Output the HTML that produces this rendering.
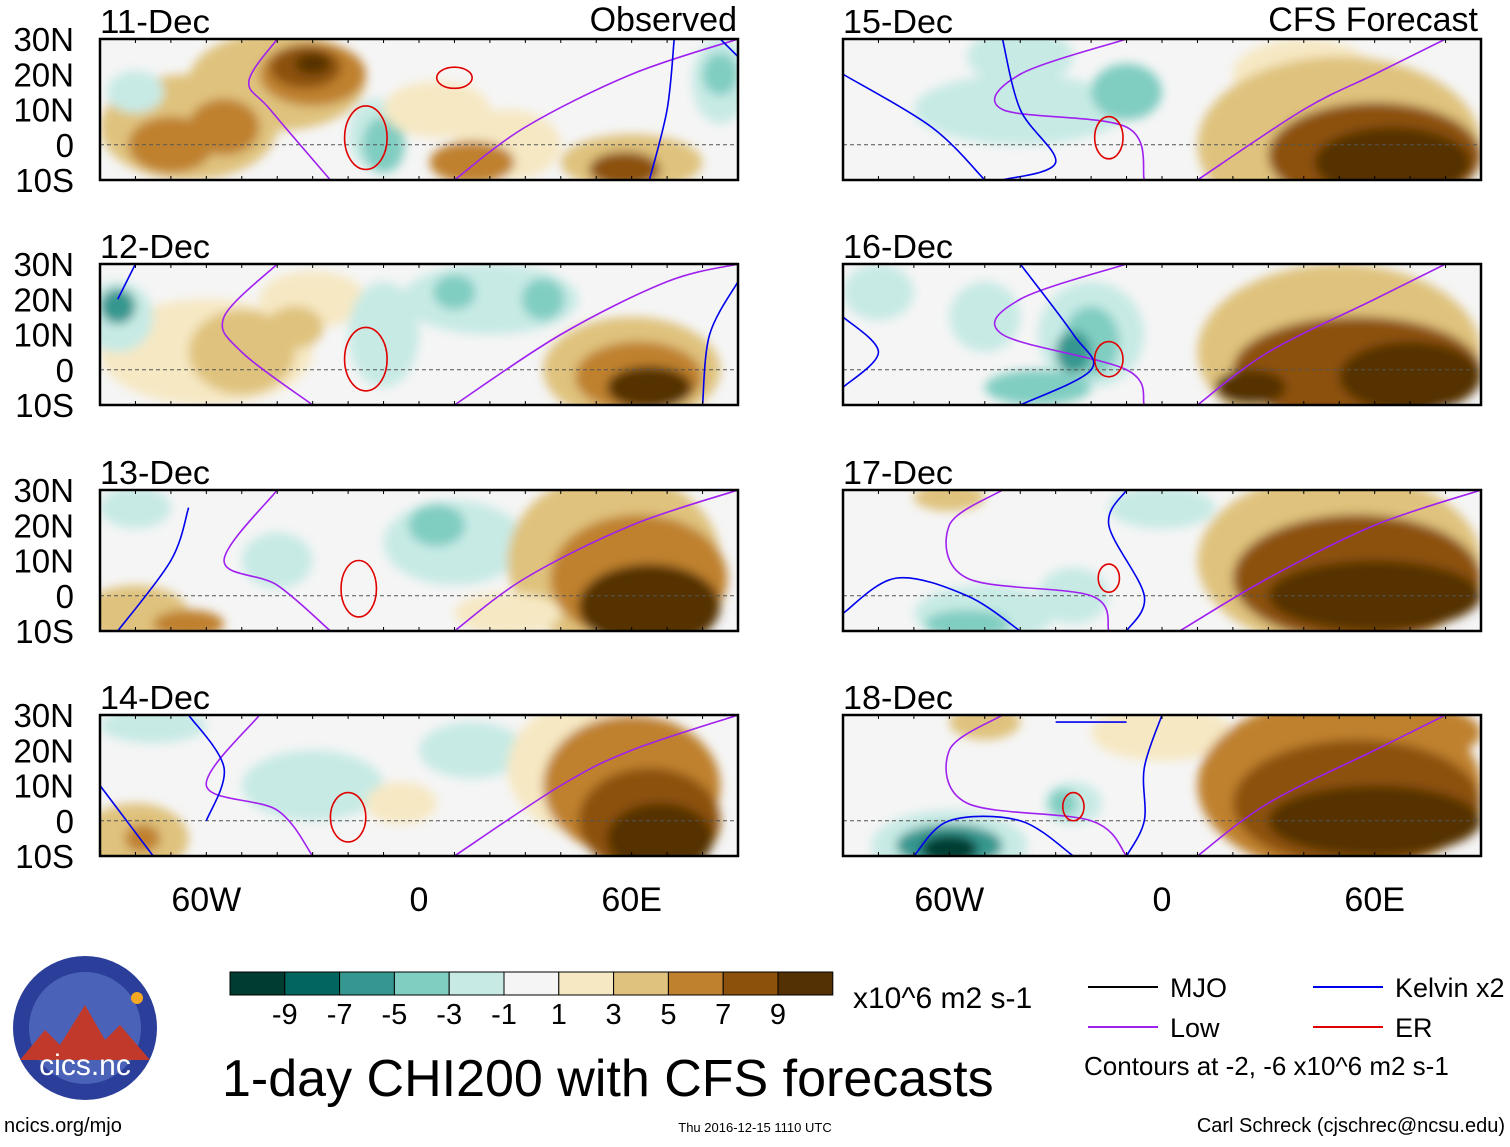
<!DOCTYPE html>
<html><head><meta charset="utf-8"><style>
body{margin:0;background:#fff;font-family:"Liberation Sans",sans-serif}
svg text{font-family:"Liberation Sans",sans-serif}
</style></head><body>
<svg id="c" width="1510" height="1142" viewBox="0 0 1510 1142" xmlns="http://www.w3.org/2000/svg">
<defs><filter id="bl" x="-10%" y="-10%" width="120%" height="120%"><feGaussianBlur stdDeviation="5"/></filter></defs>
</svg>
<script>
const levelColors=["#003c30","#01665e","#35978f","#80cdc1","#c7eae5","#f5f5f5","#f6e8c3","#dfc27d","#bf812d","#8c510a","#543005"];
const levelLabels=["-9","-7","-5","-3","-1","1","3","5","7","9"];
const panelDates=["11-Dec","12-Dec","13-Dec","14-Dec","15-Dec","16-Dec","17-Dec","18-Dec"];
const latLabels=["30N","20N","10N","0","10S"];
const lonTicks=[-60,0,60];
const lonLabels=["60W","0","60E"];
// blobs: [lon, lat, rxDeg, ryDeg, level]
const blobs=[
[[-65,5,25,15,7],[-40,18,25,14,7],[-30,20,15,9,8],[-32,22,10,6,9],[-30,23,5,3,10],[-70,0,12,8,8],[-55,5,10,8,8],[-80,15,8,6,4],[-12,3,8,10,4],[-10,0,6,8,3],[5,10,15,8,6],[25,0,15,10,6],[15,-5,12,6,8],[60,-5,20,8,7],[58,-7,10,5,9],[85,18,8,12,4],[85,20,5,6,3]],
[[-60,5,30,15,6],[-50,5,15,12,7],[-30,20,15,8,6],[-35,12,8,6,7],[-85,15,10,10,4],[-85,18,5,5,2],[20,20,25,10,4],[10,22,6,5,3],[35,20,6,6,3],[-10,10,10,15,4],[60,0,25,15,7],[62,-2,18,10,8],[65,-5,12,6,10]],
[[-80,-5,15,8,7],[-65,-8,10,4,8],[-80,25,10,6,4],[10,15,20,12,4],[5,20,8,6,3],[55,10,30,25,7],[62,5,25,18,8],[65,-3,20,12,10],[-40,10,10,8,4],[25,-5,15,6,6]],
[[-80,-5,15,10,7],[-78,-5,5,4,8],[-75,27,15,5,4],[-30,10,20,10,4],[15,20,15,8,4],[-5,5,10,6,6],[50,15,25,20,6],[60,10,25,20,8],[65,0,20,15,9],[68,-5,15,10,10]],
[[-40,25,15,8,4],[-40,10,30,10,4],[-10,15,10,8,3],[40,20,20,10,6],[50,0,40,25,7],[60,-3,30,15,9],[65,-5,22,10,10]],
[[-80,22,10,8,4],[-50,15,10,10,4],[-20,10,15,15,4],[-20,8,8,10,3],[-25,5,5,6,2],[-35,-5,15,5,3],[50,5,40,25,7],[55,0,35,15,9],[70,-2,20,10,10],[25,-5,10,5,10]],
[[-50,-5,20,8,4],[-55,-8,12,4,3],[-25,0,10,8,4],[-60,28,10,4,7],[0,25,15,6,4],[50,10,40,25,7],[55,5,35,18,9],[60,0,30,10,10]],
[[-60,-7,22,10,4],[-60,-7,15,6,2],[-60,-8,8,4,0],[-25,5,8,6,4],[-28,5,4,4,3],[-50,28,10,5,7],[0,25,20,8,6],[50,10,40,25,8],[70,25,20,8,8],[55,5,35,18,9],[60,0,30,10,10]]
];
const lowLines=[
[[[-40,30],[-48,18],[-42,10],[-25,-10]],[[10,-10],[30,5],[60,20],[90,30]]],
[[[-40,30],[-55,15],[-50,5],[-30,-10]],[[10,-10],[40,10],[70,25],[90,30]]],
[[[-40,30],[-55,10],[-40,3],[-25,-10]],[[10,-10],[30,5],[60,20],[90,30]]],
[[[-45,30],[-60,10],[-40,3],[-30,-10]],[[10,-10],[40,10],[60,20],[90,30]]],
[[[-10,30],[-40,20],[-45,10],[-10,5],[-5,-10]],[[10,-10],[40,10],[60,20],[80,30]]],
[[[-10,30],[-40,20],[-45,10],[-10,0],[-5,-10]],[[10,-10],[30,5],[60,20],[80,30]]],
[[[-45,30],[-60,20],[-55,5],[-20,0],[-15,-10]],[[5,-10],[30,5],[60,20],[90,30]]],
[[[-45,30],[-60,20],[-55,5],[-20,0],[-10,-10]],[[10,-10],[30,5],[60,20],[80,30]]]
];
const kelvinLines=[
[[[65,-10],[70,10],[72,30]],[[85,30],[90,25]]],
[[[-80,30],[-85,20]],[[80,-10],[82,10],[90,25]]],
[[[-85,-10],[-70,10],[-65,25]]],
[[[-90,10],[-75,-10]],[[-60,0],[-55,15],[-65,30]]],
[[[-90,20],[-65,5],[-50,-10]],[[-45,-10],[-30,-5],[-40,10],[-45,30]]],
[[[-90,-5],[-80,5],[-90,15]],[[-40,-10],[-20,0],[-25,10],[-40,30]]],
[[[-90,-5],[-75,5],[-55,0],[-40,-10]],[[-10,30],[-15,20],[-5,0],[-10,-10]]],
[[[-70,-10],[-60,0],[-40,0],[-25,-10]],[[-10,28],[-30,28]],[[0,30],[-5,15],[-5,0],[-10,-10]]]
];
const erRings=[[[-15,2,6,9],[10,19,5,3]],[[-15,3,6,9]],[[-17,2,5,8]],[[-20,1,5,7]],[[-15,2,4,6]],[[-15,3,4,5]],[[-15,5,3,4]],[[-25,4,3,4]]];

const NS="http://www.w3.org/2000/svg";
const svg=document.getElementById('c');
function mk(t,a,p){const e=document.createElementNS(NS,t);for(const k in a)e.setAttribute(k,a[k]);(p||svg).appendChild(e);return e;}
function smooth(P){if(P.length<3)return 'M'+P.map(p=>p.join(',')).join(' L');
  let d='M'+P[0][0]+','+P[0][1];
  for(let i=0;i<P.length-1;i++){const p0=P[i-1]||P[i],p1=P[i],p2=P[i+1],p3=P[i+2]||p2;
    d+=' C'+(p1[0]+(p2[0]-p0[0])/6)+','+(p1[1]+(p2[1]-p0[1])/6)+' '+(p2[0]-(p3[0]-p1[0])/6)+','+(p2[1]-(p3[1]-p1[1])/6)+' '+p2[0]+','+p2[1];}
  return d;}
const PW=638,PH=141;
const X0=[100,843],Y0=[39,264,490,715];
panelDates.forEach((d,i)=>{
  const x0=X0[i<4?0:1],y0=Y0[i%4];
  const px=lon=>x0+(lon+90)*PW/180;
  const py=lat=>y0+(30-lat)*PH/40;
  const g=mk('g',{});
  
  
  const cp=mk('clipPath',{id:'cp'+i},svg.querySelector('defs'));
  mk('rect',{x:x0,y:y0,width:PW,height:PH},cp);
  const inner=mk('g',{'clip-path':'url(#cp'+i+')'},g);
  mk('rect',{x:x0,y:y0,width:PW,height:PH,fill:levelColors[5]},inner);
  const sh=mk('g',{filter:'url(#bl)'},inner);
  blobs[i].forEach(b=>{
    const e=mk('ellipse',{cx:px(b[0]),cy:py(b[1]),rx:b[2]*PW/180,ry:b[3]*PH/40,fill:levelColors[b[4]]},sh);
    
    
  });
  mk('line',{x1:x0,x2:x0+PW,y1:py(0),y2:py(0),stroke:'#555','stroke-dasharray':'4,3','stroke-width':1},inner);
  const line=(pts,col,name)=>{const p=mk('path',{d:smooth(pts.map(q=>[px(q[0]),py(q[1])])),fill:'none',stroke:col,'stroke-width':1.6},inner);
    };
  lowLines[i].forEach(l=>line(l,'#a020f0','low-contour'));
  kelvinLines[i].forEach(l=>line(l,'#0000ee','kelvin-contour'));
  erRings[i].forEach(r=>{const e=mk('ellipse',{cx:px(r[0]),cy:py(r[1]),rx:r[2]*PW/180,ry:r[3]*PH/40,fill:'none',stroke:'#e00000','stroke-width':1.6},inner);
    });
  mk('rect',{x:x0,y:y0,width:PW,height:PH,fill:'none',stroke:'#000','stroke-width':2.5},g);
  for(let lon=-90;lon<=90;lon+=10){mk('line',{x1:px(lon),x2:px(lon),y1:y0,y2:y0+4,stroke:'#000'},g);mk('line',{x1:px(lon),x2:px(lon),y1:y0+PH,y2:y0+PH-4,stroke:'#000'},g);}
  const t=mk('text',{x:x0,y:y0-6,'font-size':33,'textLength':110,'lengthAdjust':'spacingAndGlyphs'},g);t.textContent=d;
  
  latLabels.forEach((l,k)=>{if(i>=4)return;const tt=mk('text',{x:74,y:y0+k*PH/4+12,'font-size':33,'text-anchor':'end'},g);tt.textContent=l;
    });
  if(i%4===3) lonTicks.forEach((lon,k)=>{const tt=mk('text',{x:px(lon),y:911,'font-size':34,'text-anchor':'middle'},g);tt.textContent=lonLabels[k];
    });
});
function txt(x,y,s,size,name,anchor){const t=mk('text',{x:x,y:y,'font-size':size,'text-anchor':anchor||'start'});t.textContent=s;
  return t;}
txt(737,31,'Observed',34,'observed-title','end');
txt(1478,31,'CFS Forecast',34,'forecast-title','end');
const cb=mk('g',{});
levelColors.forEach((c,k)=>mk('rect',{x:230+k*54.8,y:972,width:54.8,height:23,fill:c,stroke:'#000'},cb));
levelLabels.forEach((l,k)=>{const t=mk('text',{x:284.8+k*54.8,y:1024,'font-size':29,'text-anchor':'middle'},cb);t.textContent=l;});
txt(853,1008,'x10^6 m2 s-1',30,'colorbar-units');
txt(222,1096,'1-day CHI200 with CFS forecasts',52,'main-title');
const lg=[[1088,987,'#000','MJO'],[1313,987,'#0000ee','Kelvin x2'],[1088,1027,'#a020f0','Low'],[1313,1027,'#e00000','ER']];
lg.forEach(l=>{const g=mk('g',{});
  mk('line',{x1:l[0],x2:l[0]+70,y1:l[1],y2:l[1],stroke:l[2],'stroke-width':2},g);
  const t=mk('text',{x:l[0]+82,y:l[1]+10,'font-size':27},g);t.textContent=l[3];});
txt(1084,1075,'Contours at -2, -6 x10^6 m2 s-1',26,'contour-note');
txt(4,1132,'ncics.org/mjo',20,'source-url');
txt(755,1132,'Thu 2016-12-15 1110 UTC',13,'timestamp','middle');
txt(1505,1132,'Carl Schreck (cjschrec@ncsu.edu)',20,'author','end');
const lo=mk('g',{});
mk('circle',{cx:85,cy:1028,r:72,fill:'#2b3f9a'},lo);
mk('circle',{cx:85,cy:1028,r:56,fill:'#4a63b8'},lo);
mk('path',{d:'M20,1060 L45,1030 L60,1045 L85,1005 L105,1040 L120,1025 L150,1060 Z',fill:'#c0392b'},lo);
mk('circle',{cx:137,cy:998,r:6,fill:'#f5a623'},lo);
const lt=mk('text',{x:85,y:1075,'font-size':30,'text-anchor':'middle',fill:'#fff'},lo);lt.textContent='cics.nc';
</script>
</body></html>
